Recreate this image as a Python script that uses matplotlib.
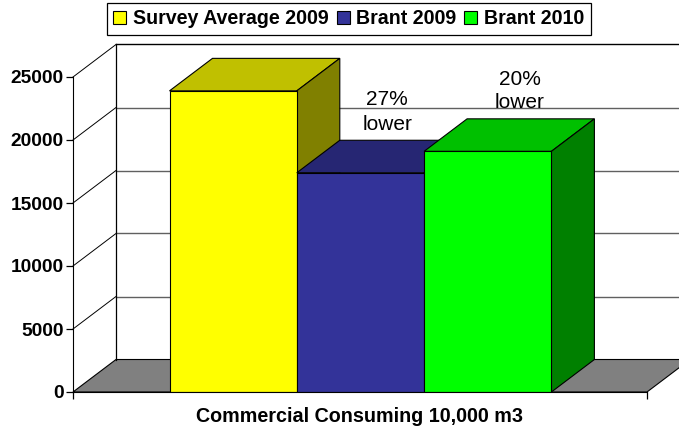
import matplotlib
matplotlib.use("Agg")
import matplotlib.pyplot as plt

plt.rcParams['font.family'] = ['Liberation Sans', 'DejaVu Sans']

# data
names = ['Survey Average 2009', 'Brant 2009', 'Brant 2010']
values = [23900, 17400, 19100]
yticks = [0, 5000, 10000, 15000, 20000, 25000]
note_27 = '27%\nlower'
note_20 = '20%\nlower'

front = ['#FFFF00', '#333399', '#00FF00']
top = ['#C0C000', '#262673', '#00C000']
side = ['#808000', '#1A1A4D', '#008000']

W, H = 679, 429
fig = plt.figure(figsize=(W / 100, H / 100), dpi=100)
# front plane of the chart, 73..647 px wide, 77..392 px tall
ax = fig.add_axes([73 / W, 1 - 392 / H, (647 - 73) / W, (392 - 77) / H])

# depth of the fake 3d, in data units
dx = 43 / 127.3
dy = 32.5 / 315 * 25000
xleft = -0.5 - 96.5 / 127.3
xright = xleft + 574 / 127.3
xfar = xright + dx

ax.set_xlim(xleft, xright)
ax.set_ylim(0, 25000)

# floor
ax.fill([xleft, xleft + dx, xfar, xright], [0, dy, dy, 0], fc='#808080', ec='black',
        lw=0.8, clip_on=False, zorder=1)

# walls
for v in yticks[1:]:
    ax.plot([xleft, xleft + dx], [v, v + dy], color='black', lw=0.7, clip_on=False, zorder=1)
    ax.plot([xleft + dx, xfar], [v + dy, v + dy], color='black' if v == 25000 else '#606060',
            lw=1, clip_on=False, zorder=1)
ax.plot([xleft + dx, xleft + dx], [dy, 25000 + dy], color='black', lw=0.9, clip_on=False, zorder=1)

# bars, each one covers the one before
handles = []
for i in range(3):
    v = values[i]
    z = 3 + i
    b = ax.bar(i, v, width=1, color=front[i], edgecolor='black', linewidth=0.8, zorder=z + 0.5)
    handles.append(b[0])
    ax.fill([i - 0.5, i - 0.5 + dx, i + 0.5 + dx, i + 0.5], [v, v + dy, v + dy, v],
            fc=top[i], ec='black', lw=0.8, zorder=z, clip_on=False)
    ax.fill([i + 0.5, i + 0.5 + dx, i + 0.5 + dx, i + 0.5], [0, dy, v + dy, v],
            fc=side[i], ec='black', lw=0.8, zorder=z, clip_on=False)

# percent notes
ax.text(1.21, 22250, note_27, ha='center', va='center', fontsize=15, linespacing=1.38,
        zorder=10, clip_on=False)
ax.text(2.25, 23900, note_20, ha='center', va='center', fontsize=15, linespacing=1.3,
        zorder=10, clip_on=False)

ax.set_yticks(yticks)
ax.set_xticks([xleft, xright])
ax.set_xticklabels(['', ''])
ax.tick_params(axis='both', length=5, width=0.9, color='black')
ax.tick_params(axis='y', labelsize=13.8, pad=1.5)
for lab in ax.get_yticklabels():
    lab.set_fontweight('bold')
ax.set_xlabel('Commercial Consuming 10,000 m3', fontsize=14.2, fontweight='bold', labelpad=2)

ax.patch.set_visible(False)
ax.spines['top'].set_visible(False)
ax.spines['right'].set_visible(False)
ax.spines['bottom'].set_zorder(20)

leg = fig.legend(handles, names, loc='upper left', bbox_to_anchor=(107 / W, 1 - 3 / H),
                 bbox_transform=fig.transFigure, ncol=3, frameon=True, fancybox=False,
                 edgecolor='black', framealpha=1, borderaxespad=0, handlelength=0.66, handleheight=0.7,
                 handletextpad=0.35, columnspacing=0.4, borderpad=0.32,
                 prop={'size': 14.1, 'weight': 'bold'})
leg.get_frame().set_linewidth(0.9)

fig.savefig('out.png', dpi=100)
